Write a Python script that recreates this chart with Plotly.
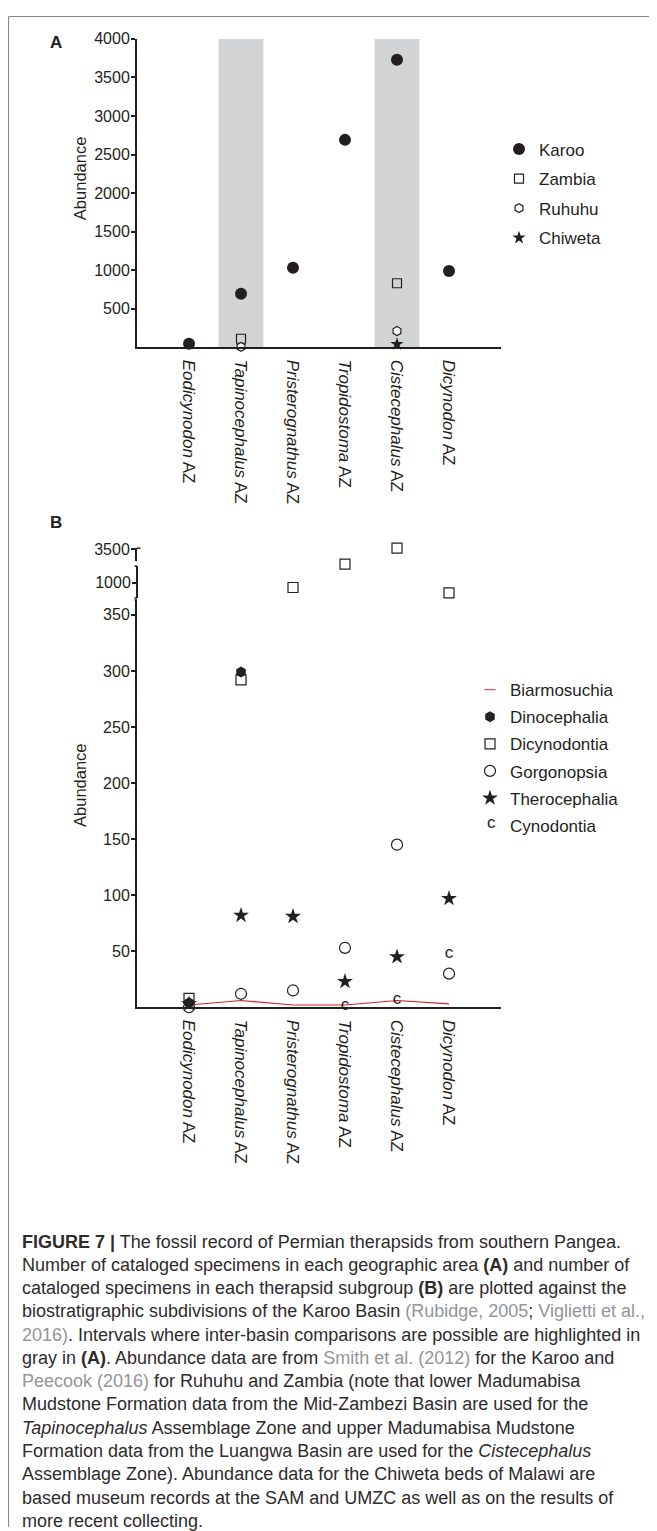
import plotly.graph_objects as go

# The page body adds an 8px margin; lay the figure out in reference-pixel
# coordinates and compensate for that offset.
OFF = 8
W, H = 657 - OFF, 1531 - OFF
FONT = "Liberation Sans, Arial, Helvetica, sans-serif"
INK = "#231f20"
BAND = "#d1d3d4"
CITE = "#939598"
RED = "#d2232a"
FRAME = "#8a8a8a"

# ---------------- data ----------------
zones = ["Eodicynodon", "Tapinocephalus", "Pristerognathus", "Tropidostoma", "Cistecephalus", "Dicynodon"]
zone_labels = [f"<i>{z}</i> AZ" for z in zones]

# Panel A: abundance per geographic area
karoo = [45, 695, 1030, 2690, 3730, 990]
zambia = [None, 110, None, None, 830, None]
ruhuhu = [None, 5, None, None, 210, None]
chiweta = [None, None, None, None, 40, None]
highlighted = ["Tapinocephalus", "Cistecephalus"]
a_ticks = [500, 1000, 1500, 2000, 2500, 3000, 3500, 4000]

# Panel B: abundance per therapsid subgroup
biarmosuchia = [2, 6, 2, 2, 6, 3]
dinocephalia = [4, 299, None, None, None, None]
dicynodontia = [8, 292, 900, 1370, 3520, 790]
gorgonopsia = [0, 12, 15, 53, 145, 30]
therocephalia = [3, 82, 81, 23, 45, 97]
cynodontia = [None, None, None, 1, 7, 48]
b_ticks_low = [50, 100, 150, 200, 250, 300, 350]
b_ticks_mid = [1000]
b_ticks_top = [3500]


def px(x):
    return (x - OFF) / W


def py(y):
    return 1 - (y - OFF) / H


XDOM = [px(137), px(501)]

fig = go.Figure()

# ---------------- Panel A ----------------
fig.add_trace(go.Scatter(x=zones, y=karoo, mode="markers", name="Karoo",
                         marker=dict(symbol="circle", size=12, color=INK),
                         xaxis="x", yaxis="y", legend="legend", legendgroup="karoo", cliponaxis=False))
fig.add_trace(go.Scatter(x=zones, y=zambia, mode="markers", name="Zambia",
                         marker=dict(symbol="square-open", size=9, color=INK, line=dict(width=1.2)),
                         xaxis="x", yaxis="y", legend="legend", legendgroup="zambia", cliponaxis=False))
fig.add_trace(go.Scatter(x=zones, y=ruhuhu, mode="markers", name="Ruhuhu",
                         marker=dict(symbol="hexagon", size=9, color="white", line=dict(width=1.2, color=INK)),
                         xaxis="x", yaxis="y", legend="legend", legendgroup="ruhuhu", cliponaxis=False))
fig.add_trace(go.Scatter(x=zones, y=chiweta, mode="markers", name="Chiweta",
                         marker=dict(symbol="star", size=10, color=INK, line=dict(width=0)),
                         xaxis="x", yaxis="y", legend="legend", legendgroup="chiweta", cliponaxis=False))


# ---------------- Panel B ----------------
def seg(values, lo, hi):
    return [v if (v is not None and lo <= v < hi) else None for v in values]


fig.add_trace(go.Scatter(x=zones, y=biarmosuchia, mode="lines", name="Biarmosuchia",
                         line=dict(color=RED, width=1.1), showlegend=False,
                         xaxis="x2", yaxis="y2", legendgroup="biar", cliponaxis=False))
fig.add_trace(go.Scatter(x=[None], y=[None], mode="markers", name="Biarmosuchia",
                         marker=dict(symbol="line-ew-open", size=8, color="#d9646e",
                                     line=dict(width=1.5, color="#d9646e")),
                         xaxis="x2", yaxis="y2", legend="legend2", legendgroup="biar"))
fig.add_trace(go.Scatter(x=zones, y=dinocephalia, mode="markers", name="Dinocephalia",
                         marker=dict(symbol="hexagon", size=11, color=INK),
                         xaxis="x2", yaxis="y2", legend="legend2", legendgroup="dino", cliponaxis=False))
for i, (lo, hi, ya) in enumerate([(-1, 500, "y2"), (500, 2000, "y3"), (2000, 10000, "y4")]):
    fig.add_trace(go.Scatter(x=zones, y=seg(dicynodontia, lo, hi), mode="markers", name="Dicynodontia",
                             marker=dict(symbol="square-open", size=10, color=INK, line=dict(width=1.2)),
                             xaxis="x2", yaxis=ya, legend="legend2", legendgroup="dicy",
                             showlegend=(i == 0), cliponaxis=False))
fig.add_trace(go.Scatter(x=zones, y=gorgonopsia, mode="markers", name="Gorgonopsia",
                         marker=dict(symbol="circle-open", size=11, color=INK, line=dict(width=1.2)),
                         xaxis="x2", yaxis="y2", legend="legend2", legendgroup="gorg", cliponaxis=False))
fig.add_trace(go.Scatter(x=zones, y=therocephalia, mode="markers", name="Therocephalia",
                         marker=dict(symbol="star", size=12, color=INK, line=dict(width=0)),
                         xaxis="x2", yaxis="y2", legend="legend2", legendgroup="thero", cliponaxis=False))
fig.add_trace(go.Scatter(x=zones, y=cynodontia, mode="text", name="Cynodontia",
                         text=["c" if v is not None else "" for v in cynodontia],
                         textfont=dict(family=FONT, size=17, color=INK), showlegend=False,
                         xaxis="x2", yaxis="y2", legendgroup="cyno", cliponaxis=False))
# legend entry for the text-marker series (its "c" glyph is added as an annotation)
fig.add_trace(go.Scatter(x=[None], y=[None], mode="markers", name="Cynodontia",
                         marker=dict(size=1, color="rgba(0,0,0,0)"),
                         xaxis="x2", yaxis="y2", legend="legend2", legendgroup="cyno"))

# ---------------- axes ----------------
axis_common = dict(showgrid=False, zeroline=False, showline=True, linecolor=INK, linewidth=2,
                   tickfont=dict(family=FONT, size=16, color=INK))
xcommon = dict(axis_common, type="category", categoryorder="array", categoryarray=zones,
               range=[-1, 6], tickmode="array", tickvals=zones, ticktext=zone_labels,
               tickangle=90, ticks="", ticklabelstandoff=7,
               tickfont=dict(family=FONT, size=17, color=INK))
ycommon = dict(axis_common, ticks="outside", ticklen=4, tickwidth=2, tickcolor=INK,
               tickmode="array", ticklabelstandoff=-2)

b_scale = (1004.5 - 610) / 350.0
b_top = (1004.5 - 595) / b_scale

fig.update_layout(
    width=W, height=H,
    margin=dict(l=0, r=0, t=0, b=0),
    paper_bgcolor="white", plot_bgcolor="rgba(0,0,0,0)",
    font=dict(family=FONT, color=INK),
    xaxis=dict(xcommon, domain=XDOM, anchor="y"),
    yaxis=dict(ycommon, domain=[py(341), py(31)], range=[0, 4000], tickvals=a_ticks, anchor="x"),
    xaxis2=dict(xcommon, domain=XDOM, anchor="y2"),
    yaxis2=dict(ycommon, domain=[py(1004.5), py(595)], range=[0, b_top], tickvals=b_ticks_low, anchor="x2"),
    # middle segment: axis line drawn as a shape over 561..593, domain extended upward
    yaxis3=dict(ycommon, domain=[py(593), py(555)], range=[690, 1450], tickvals=b_ticks_mid,
                anchor="x2", showline=False),
    yaxis4=dict(ycommon, domain=[py(556), py(543)], range=[3260, 3520], tickvals=b_ticks_top, anchor="x2"),
    legend=dict(x=px(499), y=py(124), xanchor="left", yanchor="top",
                font=dict(family=FONT, size=17, color=INK), tracegroupgap=4.5,
                itemsizing="trace", bgcolor="rgba(0,0,0,0)", itemwidth=30),
    legend2=dict(x=px(470), y=py(667.5), xanchor="left", yanchor="top",
                 font=dict(family=FONT, size=17, color=INK), tracegroupgap=2,
                 itemsizing="trace", bgcolor="rgba(0,0,0,0)", itemwidth=30),
)

# ---------------- shapes ----------------
shapes = []
for z in highlighted:
    i = zones.index(z)
    shapes.append(dict(type="rect", xref="x", yref="y", x0=i - 0.43, x1=i + 0.43, y0=0, y1=4000,
                       fillcolor=BAND, line=dict(width=0), layer="below"))
# figure frame
shapes.append(dict(type="line", xref="paper", yref="paper", x0=px(8.5), x1=1, y0=py(8.5), y1=py(8.5),
                   line=dict(color=FRAME, width=1.2)))
shapes.append(dict(type="line", xref="paper", yref="paper", x0=px(8.5), x1=px(8.5), y0=py(8.5), y1=py(1527),
                   line=dict(color=FRAME, width=1.2)))
# middle segment axis line
shapes.append(dict(type="line", xref="paper", yref="paper", x0=px(137), x1=px(137), y0=py(561), y1=py(593),
                   line=dict(color=INK, width=2)))
# broken-axis end hooks
for (x0, x1, yy) in [(137, 140.5, 543), (137, 134.5, 561), (137, 134.5, 593), (137, 134.5, 595)]:
    shapes.append(dict(type="line", xref="paper", yref="paper", x0=px(x0), x1=px(x1), y0=py(yy), y1=py(yy),
                       line=dict(color=INK, width=1.5)))
fig.update_layout(shapes=shapes)

# ---------------- annotations ----------------
ann = []


def label(text, x, y, size, angle=0, anchor="center"):
    return dict(text=text, x=px(x), y=py(y), xref="paper", yref="paper", showarrow=False,
                xanchor=anchor, yanchor="middle", textangle=angle,
                font=dict(family=FONT, size=size, color=INK))


ann.append(label("<b>A</b>", 56, 35, 17))
ann.append(label("<b>B</b>", 56, 517, 17))
ann.append(label("Abundance", 80, 171, 16.5, angle=-90))
ann.append(label("Abundance", 80, 781, 16.5, angle=-90))
# glyph for the Cynodontia legend entry
ann.append(label("c", 491, 819, 17))


def cite(s):
    return f"<span style='color:{CITE}'>{s}</span>"


caption_lines = [
    "<b>FIGURE 7 |</b> The fossil record of Permian therapsids from southern Pangea.",
    "Number of cataloged specimens in each geographic area <b>(A)</b> and number of",
    "cataloged specimens in each therapsid subgroup <b>(B)</b> are plotted against the",
    "biostratigraphic subdivisions of the Karoo Basin " + cite("(Rubidge, 2005") + "; " + cite("Viglietti et al.,"),
    cite("2016)") + ". Intervals where inter-basin comparisons are possible are highlighted in",
    "gray in <b>(A)</b>. Abundance data are from " + cite("Smith et al. (2012)") + " for the Karoo and",
    cite("Peecook (2016)") + " for Ruhuhu and Zambia (note that lower Madumabisa",
    "Mudstone Formation data from the Mid-Zambezi Basin are used for the",
    "<i>Tapinocephalus</i> Assemblage Zone and upper Madumabisa Mudstone",
    "Formation data from the Luangwa Basin are used for the <i>Cistecephalus</i>",
    "Assemblage Zone). Abundance data for the Chiweta beds of Malawi are",
    "based museum records at the SAM and UMZC as well as on the results of",
    "more recent collecting.",
]
for k, line in enumerate(caption_lines):
    ann.append(dict(text=line, x=px(20), y=py(1240 + k * 23.4), xref="paper", yref="paper",
                    xanchor="left", yanchor="middle", showarrow=False, align="left",
                    font=dict(family=FONT, size=18, color="#2e2b2c")))
fig.update_layout(annotations=ann)

fig.write_html("out.html")
